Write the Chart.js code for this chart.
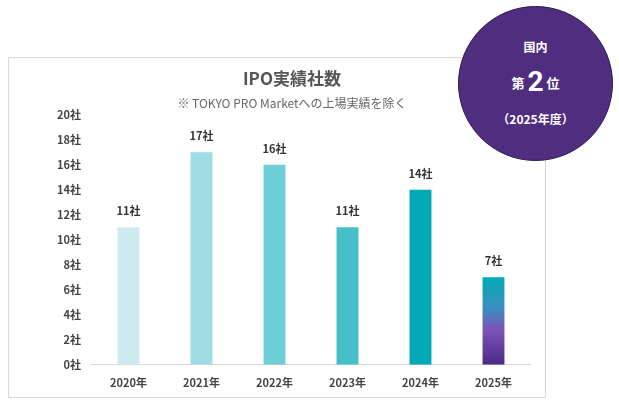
<!DOCTYPE html>
<html><head><meta charset="utf-8">
<script src="https://cdn.jsdelivr.net/npm/chart.js@4"></script>
<style>
body{margin:0;background:#fff;font-family:"Noto Sans CJK JP",sans-serif}
#wrap{position:relative;width:619px;height:407px}
#box{position:absolute;left:8px;top:57px;width:536px;height:339px;border:1px solid #d9d9d9}
#cv{position:absolute;left:0;top:0}
#badge{position:absolute;left:458px;top:6px;width:155px;height:155px;border-radius:50%;background:#4f2d7f;border:1px solid #2e1a4d;color:#fff;text-align:center;font-weight:bold;box-sizing:border-box}
</style></head><body>
<div id="wrap">
<div id="box"></div>
<canvas id="cv" width="619" height="407"></canvas>
<div id="badge">
  <div style="margin-top:31px;font-size:12px">国内</div>
  <div style="margin-top:10px;font-size:13px;line-height:34px">第 <span style="font-size:28px;font-family:Roboto,sans-serif;vertical-align:-3px">2</span> 位</div>
  <div style="margin-top:10px;font-size:12px">（2025年度）</div>
</div>
</div>
<script>
const years  = ['2020年','2021年','2022年','2023年','2024年','2025年'];
const counts = [11, 17, 16, 11, 14, 7];
const colors = ['#cdebef','#9ddde3','#6ecfd6','#45c0c9','#00a9b5', null];

const labelPlugin = {
  id:'vals',
  afterDatasetsDraw(chart){
    const ctx = chart.ctx;
    chart.getDatasetMeta(0).data.forEach((bar,i)=>{
      ctx.save();
      ctx.fillStyle='#333';
      ctx.font='bold 11px "Noto Sans CJK JP"';
      ctx.textAlign='center';
      ctx.fillText(counts[i]+'社', bar.x, bar.y-12);
      ctx.restore();
    });
  }
};

new Chart(document.getElementById('cv'), {
  type:'bar',
  data:{ labels: years, datasets:[{ data: counts,
    backgroundColor(c){
      const i=c.dataIndex, ch=c.chart, a=ch.chartArea;
      if(colors[i]||!a) return colors[i]||'#00a9b5';
      const y0=ch.scales.y.getPixelForValue(counts[i]), y1=ch.scales.y.getPixelForValue(0);
      const g=ch.ctx.createLinearGradient(0,y0,0,y1);
      g.addColorStop(0,'#00abb6');g.addColorStop(0.35,'#3a8fbf');
      g.addColorStop(0.6,'#7c52b8');g.addColorStop(1,'#4a2a85');
      return g;
    },
    categoryPercentage:1, barPercentage:0.3 }]},
  options:{
    responsive:false, animation:false,
    layout:{ padding:{ left:54, right:89, top:64, bottom:15 } },
    plugins:{
      legend:{display:false}, tooltip:{enabled:false},
      title:{display:true,text:'IPO実績社数',color:'#555',font:{size:17,weight:'bold',family:'"Noto Sans CJK JP"'},padding:{top:4,bottom:8}},
      subtitle:{display:true,text:'※ TOKYO PRO Marketへの上場実績を除く',color:'#666',font:{size:12,family:'"Noto Sans CJK JP"'},padding:{bottom:4}}
    },
    scales:{
      x:{ grid:{display:false}, border:{color:'#d9d9d9'},
          ticks:{color:'#444',font:{size:11,weight:'bold',family:'"Noto Sans CJK JP"'}} },
      y:{ min:0,max:20, grid:{display:false}, border:{display:false},
          ticks:{stepSize:2,color:'#444',font:{size:11,weight:'bold',family:'"Noto Sans CJK JP"'},callback:v=>v+'社'} }
    }
  },
  plugins:[labelPlugin]
});
</script>
</body></html>
